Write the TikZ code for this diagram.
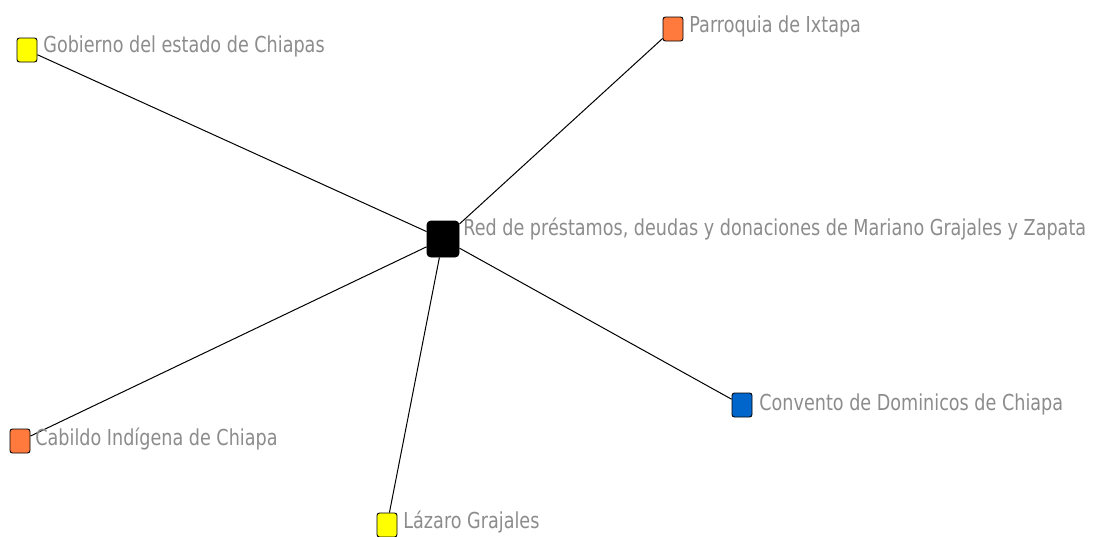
\documentclass[tikz,border=0pt]{standalone}
\usepackage{fontspec}
\setmainfont{DejaVu Sans}[FakeStretch=0.8]
\definecolor{lblgray}{RGB}{140,140,140}
\definecolor{nodeyellow}{RGB}{255,255,0}
\definecolor{nodeorange}{RGB}{255,122,60}
\definecolor{nodeblue}{RGB}{0,102,204}
\tikzset{every picture/.style={line width=0.75pt}}
\tikzset{
  actor/.style={draw=black, rounded corners=2.5pt, minimum width=20, minimum height=24, inner sep=0pt, line width=0.9pt},
  lbl/.style={anchor=base west, inner sep=0pt, text=lblgray, font=\fontsize{22}{26}\selectfont},
  tie/.style={draw=black, line width=1pt}
}

\begin{document}
\begin{tikzpicture}[x=1pt,y=1pt,yscale=-1,xscale=1]
\useasboundingbox (0,0) rectangle (1099,536);

% hub
\node [actor, fill=black, minimum width=32, minimum height=36, rounded corners=4pt] (red) at (443,239) {};
% actors
\node [actor, fill=nodeyellow] (gobierno) at (27,50) {};
\node [actor, fill=nodeorange] (parroquia) at (673,29) {};
\node [actor, fill=nodeorange] (cabildo) at (20,441) {};
\node [actor, fill=nodeyellow] (lazaro) at (387,525) {};
\node [actor, fill=nodeblue] (convento) at (742,405) {};

% ties
\draw [tie] (red) -- (gobierno);
\draw [tie] (red) -- (parroquia);
\draw [tie] (red) -- (cabildo);
\draw [tie] (red) -- (lazaro);
\draw [tie] (red) -- (convento);

% Text Node
\node [lbl] (redlbl) at (463,235) {Red de préstamos, deudas y donaciones de Mariano Grajales y Zapata};
\node [lbl] (gobiernolbl) at (43,52) {Gobierno del estado de Chiapas};
\node [lbl] (parroquialbl) at (689,32) {Parroquia de Ixtapa};
\node [lbl] (cabildolbl) at (35,445) {Cabildo Indígena de Chiapa};
\node [lbl] (lazarolbl) at (403,528) {Lázaro Grajales};
\node [lbl] (conventolbl) at (759,410) {Convento de Dominicos de Chiapa};

\end{tikzpicture}
\end{document}
